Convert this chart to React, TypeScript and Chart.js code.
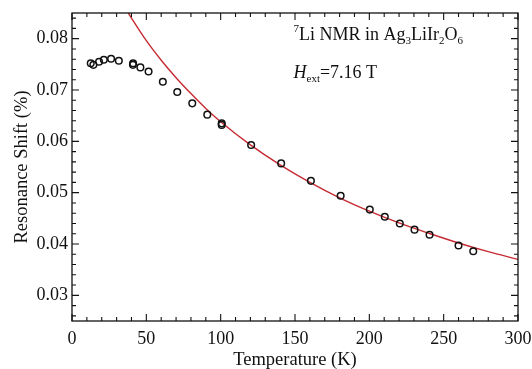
import React, { useEffect, useRef } from "react";
import { Chart, registerables } from "chart.js";

Chart.register(...registerables);

// Measured data (Temperature K, Resonance shift %)
const tempK = [12.6, 14.4, 18.2, 21.4, 26.3, 31.5, 41.1, 41.0, 46.0, 51.5, 61.1, 70.8, 80.9, 91.0, 100.7, 100.7, 120.5, 140.7, 160.7, 180.7, 200.3, 210.4, 220.5, 230.4, 240.5, 260.0, 269.9];
const shift = [0.0752, 0.0749, 0.0755, 0.0759, 0.0761, 0.0757, 0.0752, 0.0749, 0.0744, 0.0736, 0.0716, 0.0696, 0.0674, 0.0652, 0.0635, 0.0632, 0.0593, 0.0557, 0.0523, 0.0494, 0.0467, 0.0453, 0.0440, 0.0428, 0.0418, 0.0397, 0.0386];

// Fit curve
const fitT = [37, 40, 50, 60, 70, 80, 90, 100, 120, 140, 160, 180, 200, 220, 240, 260, 280, 300];
const fitShift = [0.0854, 0.0840, 0.0796, 0.0758, 0.0724, 0.0693, 0.0664, 0.0638, 0.0593, 0.0554, 0.0520, 0.0490, 0.0464, 0.0441, 0.0421, 0.0402, 0.0385, 0.0370];

const xTicks = [0, 50, 100, 150, 200, 250, 300];
const yTicks = [0.03, 0.04, 0.05, 0.06, 0.07, 0.08];

const SERIF = "'Liberation Serif', 'DejaVu Serif', serif";

const framePlugin = {
  id: "frameTicks",
  afterDatasetsDraw(chart: any) {
    const { ctx, chartArea: a, scales } = chart;
    const xs = scales.x, ys = scales.y;
    ctx.save();
    ctx.strokeStyle = "#111";
    ctx.lineWidth = 1.3;
    ctx.strokeRect(a.left, a.top, a.right - a.left, a.bottom - a.top);
    ctx.lineWidth = 1.1;
    ctx.beginPath();
    for (let v = 0; v <= 300; v += 10) {
      const px = xs.getPixelForValue(v);
      const len = v % 50 === 0 ? 7 : 4;
      ctx.moveTo(px, a.bottom); ctx.lineTo(px, a.bottom - len);
      ctx.moveTo(px, a.top); ctx.lineTo(px, a.top + len);
    }
    for (let i = 13; i <= 42; i++) {
      const v = i * 0.002;
      const py = ys.getPixelForValue(v);
      const len = i % 5 === 0 ? 7 : 4;
      ctx.moveTo(a.left, py); ctx.lineTo(a.left + len, py);
      ctx.moveTo(a.right, py); ctx.lineTo(a.right - len, py);
    }
    ctx.stroke();

    // annotation
    const drawRich = (segs: any[], x: number, y: number) => {
      let cx = x;
      for (const s of segs) {
        ctx.font = `${s.italic ? "italic " : ""}${s.size}px ${SERIF}`;
        ctx.fillStyle = "#111";
        ctx.textBaseline = "alphabetic";
        ctx.fillText(s.t, cx, y + (s.dy || 0));
        cx += ctx.measureText(s.t).width;
      }
    };
    const ax = xs.getPixelForValue(149);
    drawRich(
      [
        { t: "7", size: 11, dy: -8 },
        { t: "Li NMR in Ag", size: 18 },
        { t: "3", size: 11, dy: 4 },
        { t: "LiIr", size: 18 },
        { t: "2", size: 11, dy: 4 },
        { t: "O", size: 18 },
        { t: "6", size: 11, dy: 4 },
      ],
      ax, ys.getPixelForValue(0.0798)
    );
    drawRich(
      [
        { t: "H", size: 18, italic: true },
        { t: "ext", size: 11, dy: 4 },
        { t: "=7.16 T", size: 18 },
      ],
      ax, ys.getPixelForValue(0.0724)
    );
    ctx.restore();
  },
};

export default function App() {
  const ref = useRef<HTMLCanvasElement | null>(null);
  useEffect(() => {
    if (!ref.current) return;
    const chart = new Chart(ref.current, {
      type: "scatter",
      data: {
        datasets: [
          {
            label: "fit",
            data: fitT.map((t, i) => ({ x: t, y: fitShift[i] })),
            showLine: true,
            borderColor: "#c62a32",
            borderWidth: 1.4,
            pointRadius: 0,
            tension: 0.4,
            cubicInterpolationMode: "monotone",
            order: 2,
          },
          {
            label: "data",
            data: tempK.map((t, i) => ({ x: t, y: shift[i] })),
            showLine: false,
            pointRadius: 3.3,
            pointBorderWidth: 1.5,
            pointBorderColor: "#111",
            pointBackgroundColor: "rgba(255,255,255,0)",
            order: 1,
          },
        ],
      },
      options: {
        animation: false,
        responsive: true,
        maintainAspectRatio: false,
        layout: { padding: { top: 13, right: 14, left: 0, bottom: 0 } },
        plugins: { legend: { display: false }, tooltip: { enabled: false } },
        scales: {
          x: {
            type: "linear",
            min: 0,
            max: 300,
            grid: { display: false, drawTicks: false },
            border: { display: false },
            afterBuildTicks: (s: any) => { s.ticks = xTicks.map((v) => ({ value: v })); },
            afterFit: (s: any) => { s.height = 48; s.paddingRight = 0; s.paddingLeft = 0; },
            ticks: { color: "#111", padding: 7, font: { family: SERIF, size: 18 }, maxRotation: 0 },
            title: { display: true, text: "Temperature (K)", color: "#111", font: { family: SERIF, size: 18.5 }, padding: { top: 0, bottom: -2 } },
          },
          y: {
            type: "linear",
            min: 0.025,
            max: 0.085,
            grid: { display: false, drawTicks: false },
            border: { display: false },
            afterBuildTicks: (s: any) => { s.ticks = yTicks.map((v) => ({ value: v })); },
            afterFit: (s: any) => { s.width = 72; s.paddingTop = 0; s.paddingBottom = 0; },
            ticks: { color: "#111", padding: 4, font: { family: SERIF, size: 18 }, callback: (v: any) => Number(v).toFixed(2) },
            title: { display: true, text: "Resonance Shift (%)", color: "#111", font: { family: SERIF, size: 18.5 }, padding: { top: 11, bottom: 0 } },
          },
        },
      },
      plugins: [framePlugin],
    } as any);
    return () => chart.destroy();
  }, []);
  return (
    <div style={{ position: "fixed", left: 0, top: 0, width: 532, height: 369, background: "#fff" }}>
      <canvas ref={ref} />
    </div>
  );
}
